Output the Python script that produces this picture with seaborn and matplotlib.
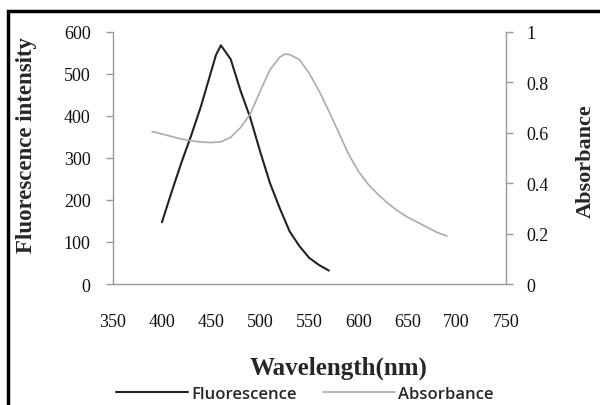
import matplotlib
matplotlib.use("Agg")
import matplotlib.pyplot as plt
import seaborn as sns
import pandas as pd
from matplotlib.patches import Rectangle

# Data
fluo_wavelength = [400, 410, 420, 430, 440, 450, 455, 460, 470, 480, 490,
                   500, 510, 520, 530, 540, 550, 560, 570]
fluo_intensity = [147, 220, 290, 355, 425, 505, 545, 568, 535, 460, 395,
                  315, 240, 180, 125, 90, 62, 45, 32]

abs_wavelength = [390, 400, 410, 420, 430, 440, 450, 460, 470, 480,
                  490, 500, 510, 520, 525, 530, 540, 550, 560, 570, 580,
                  590, 600, 610, 620, 630, 640, 650, 660, 670, 680, 690]
abs_values = [0.605, 0.595, 0.585, 0.575, 0.568, 0.563, 0.561, 0.564, 0.582, 0.620,
              0.675, 0.765, 0.850, 0.900, 0.912, 0.910, 0.890, 0.835, 0.765, 0.685, 0.600,
              0.515, 0.447, 0.395, 0.355, 0.320, 0.290, 0.265, 0.245, 0.225, 0.205, 0.190]

x_ticks = [350, 400, 450, 500, 550, 600, 650, 700, 750]
left_ticks = [0, 100, 200, 300, 400, 500, 600]
right_ticks = [0, 0.2, 0.4, 0.6, 0.8, 1]
right_labels = ["0", "0.2", "0.4", "0.6", "0.8", "1"]

df_fluo = pd.DataFrame({"Wavelength": fluo_wavelength, "Intensity": fluo_intensity})
df_abs = pd.DataFrame({"Wavelength": abs_wavelength, "Absorbance": abs_values})

sns.set_style("white")
plt.rcParams["font.family"] = ["Liberation Serif", "DejaVu Serif"]

fig = plt.figure(figsize=(6.0, 4.06), dpi=100)
ax = fig.add_axes([0.188, 0.298, 0.655, 0.621])
ax2 = ax.twinx()

sns.lineplot(data=df_fluo, x="Wavelength", y="Intensity", ax=ax,
             color="#222222", linewidth=1.5, label="Fluorescence", legend=False)
sns.lineplot(data=df_abs, x="Wavelength", y="Absorbance", ax=ax2,
             color="#ababab", linewidth=1.2, label="Absorbance", legend=False)

spine_col = "#999999"
ax.set_xlim(350, 750)
ax.set_ylim(0, 600)
ax2.set_ylim(0, 1)
ax.set_xticks(x_ticks)
ax.set_yticks(left_ticks)
ax2.set_yticks(right_ticks)
ax2.set_yticklabels(right_labels)

for a in (ax, ax2):
    a.spines["top"].set_visible(False)
    for s in ("left", "right", "bottom"):
        a.spines[s].set_color(spine_col)
        a.spines[s].set_linewidth(1.0)
    a.tick_params(direction="out", length=5, width=1, color=spine_col,
                  labelsize=13, labelcolor="#111111")
ax.spines["right"].set_visible(False)
ax2.spines["left"].set_visible(False)
ax2.spines["bottom"].set_visible(False)
ax.tick_params(axis="x", pad=16)
ax.tick_params(axis="y", pad=11)
ax2.tick_params(axis="y", pad=10)

ax.set_xlabel("Wavelength(nm)", fontsize=18, fontweight="bold")
ax.xaxis.set_label_coords(0.575, -0.282)
ax.set_ylabel("Fluorescence intensity", fontsize=16.5, fontweight="bold")
ax.yaxis.set_label_coords(-0.193, 0.555)
ax2.set_ylabel("Absorbance", fontsize=16, fontweight="bold")
ax2.yaxis.set_label_coords(1.178, 0.49)

h1, l1 = ax.get_legend_handles_labels()
h2, l2 = ax2.get_legend_handles_labels()
fig.legend(h1 + h2, l1 + l2, loc="center", bbox_to_anchor=(0.508, 0.027), ncol=2,
           frameon=False, handlelength=4.3, columnspacing=1.6, handletextpad=0.2,
           prop={"family": "Open Sans", "size": 12, "weight": "semibold"})

# black frame round the figure
fig.patches.append(Rectangle((0.013, -0.05), 1.1, 1.02, transform=fig.transFigure,
                             fill=False, edgecolor="black", linewidth=2.5))

fig.savefig("out.png", dpi=100)
